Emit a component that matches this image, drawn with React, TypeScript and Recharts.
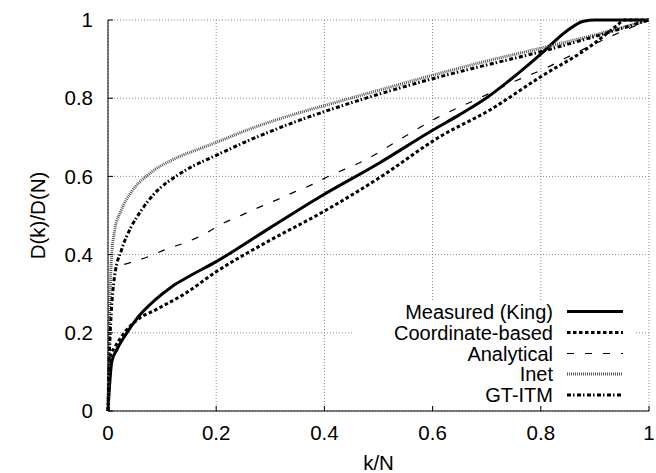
import React from 'react';
import { LineChart, Line, XAxis, YAxis, CartesianGrid, Legend } from 'recharts';

const FONT = '"Liberation Sans", Arial, Helvetica, sans-serif';
const FS = 20.5;

const tickValues = [0, 0.2, 0.4, 0.6, 0.8, 1];
const tickLabels = ['0', '0.2', '0.4', '0.6', '0.8', '1'];

const kingX = [0, 0.007, 0.016, 0.032, 0.056, 0.087, 0.118, 0.143, 0.2, 0.3, 0.392, 0.5, 0.6, 0.65, 0.7, 0.737, 0.8, 0.848, 0.879, 0.9, 1];
const kingY = [0, 0.126, 0.156, 0.194, 0.241, 0.284, 0.318, 0.339, 0.382, 0.469, 0.548, 0.633, 0.718, 0.758, 0.801, 0.84, 0.913, 0.972, 0.997, 1, 1];

const coordX = [0, 0.004, 0.013, 0.03, 0.056, 0.087, 0.143, 0.2, 0.3, 0.392, 0.5, 0.614, 0.706, 0.8, 0.891, 0.94, 0.955, 1];
const coordY = [0, 0.139, 0.164, 0.2, 0.235, 0.258, 0.301, 0.356, 0.437, 0.505, 0.595, 0.702, 0.77, 0.855, 0.932, 0.985, 1, 1];

const analyticX = [0.03, 0.04, 0.075, 0.11, 0.146, 0.18, 0.213, 0.247, 0.281, 0.312, 0.346, 0.379, 0.4, 0.481, 0.54, 0.607, 0.638, 0.675, 0.709, 0.743, 0.777, 0.811, 0.845, 0.915, 1];
const analyticY = [0.375, 0.379, 0.395, 0.415, 0.432, 0.454, 0.48, 0.501, 0.522, 0.54, 0.561, 0.58, 0.595, 0.646, 0.695, 0.749, 0.77, 0.793, 0.815, 0.838, 0.858, 0.878, 0.902, 0.949, 1];

const inetX = [0, 0.001, 0.003, 0.006, 0.012, 0.025, 0.043, 0.074, 0.123, 0.172, 0.2, 0.262, 0.349, 0.392, 0.5, 0.614, 0.7, 0.8, 0.9, 1];
const inetY = [0, 0.1, 0.25, 0.38, 0.46, 0.515, 0.56, 0.604, 0.645, 0.672, 0.687, 0.721, 0.761, 0.778, 0.82, 0.864, 0.895, 0.928, 0.962, 1];

const gtX = [0, 0.002, 0.006, 0.012, 0.025, 0.043, 0.062, 0.092, 0.123, 0.154, 0.197, 0.262, 0.349, 0.392, 0.5, 0.614, 0.7, 0.8, 0.9, 1];
const gtY = [0, 0.12, 0.25, 0.343, 0.412, 0.471, 0.514, 0.565, 0.598, 0.624, 0.652, 0.693, 0.741, 0.762, 0.81, 0.855, 0.885, 0.919, 0.958, 1];

const zip = (xs: number[], ys: number[]) => xs.map((x, i) => ({ x, y: ys[i] }));

const series = [
  { name: 'Measured (King)', data: zip(kingX, kingY), stroke: '#000', width: 3, dash: undefined as string | undefined },
  { name: 'Coordinate-based', data: zip(coordX, coordY), stroke: '#000', width: 3, dash: '3.5 2.5' },
  { name: 'Analytical', data: zip(analyticX, analyticY), stroke: '#000', width: 1.2, dash: '7 11' },
  { name: 'Inet', data: zip(inetX, inetY), stroke: '#555', width: 3, dash: '1 1' },
  { name: 'GT-ITM', data: zip(gtX, gtY), stroke: '#000', width: 3, dash: '4 2 1.5 2.5' },
];

const XTick = (props: any) => {
  const { x, y, index } = props;
  return (
    <text x={x} y={y} dy={33.5} textAnchor="middle" fontSize={FS} fontFamily={FONT} fill="#000">
      {tickLabels[index]}
    </text>
  );
};

const YTick = (props: any) => {
  const { x, y, index } = props;
  return (
    <text x={x} y={y} dx={-20} dy={7.2} textAnchor="end" fontSize={FS} fontFamily={FONT} fill="#000">
      {tickLabels[index]}
    </text>
  );
};

const YLabel = (props: any) => {
  const vb = props.viewBox || {};
  const cx = vb.x + 37;
  const cy = vb.y + vb.height / 2;
  return (
    <text x={cx} y={cy} textAnchor="middle" dominantBaseline="central" fontSize={FS} fontFamily={FONT} fill="#000" transform={`rotate(-90, ${cx}, ${cy})`}>
      D(k)/D(N)
    </text>
  );
};

const XLabel = (props: any) => {
  const vb = props.viewBox || {};
  return (
    <text x={vb.x + vb.width / 2} y={vb.y + 58.5} textAnchor="middle" fontSize={FS} fontFamily={FONT} fill="#000">
      k/N
    </text>
  );
};

const LegendBox = () => {
  const rows = [11.5, 32.5, 53.5, 74, 95];
  return (
    <svg width={284} height={105} style={{ display: 'block' }}>
      <rect x={0} y={0} width={284} height={105} fill="#fff" />
      {series.map((s, i) => (
        <g key={s.name}>
          <text x={201} y={rows[i] + 7} textAnchor="end" fontSize={20} fontFamily={FONT} fill="#000">
            {s.name}
          </text>
          <line x1={215} x2={271} y1={rows[i]} y2={rows[i]} stroke={s.stroke} strokeWidth={s.width} strokeDasharray={s.dash} />
        </g>
      ))}
    </svg>
  );
};

export default function App() {
  return (
    <div style={{ position: 'absolute', left: 0, top: 0, width: 656, height: 473, background: '#fff' }}>
      <LineChart width={656} height={473} margin={{ top: 20, right: 7, bottom: 0, left: 0 }}>
        <CartesianGrid stroke="#888" strokeDasharray="1 2" horizontalValues={tickValues} verticalValues={tickValues} />
        <XAxis
          xAxisId={0}
          dataKey="x"
          type="number"
          domain={[0, 1]}
          ticks={tickValues}
          height={62}
          axisLine={{ stroke: '#000' }}
          tickLine={{ stroke: '#000' }}
          tickSize={-5}
          tickMargin={0}
          tick={<XTick />}
          label={<XLabel />}
          interval={0}
        />
        <XAxis
          xAxisId="top"
          orientation="top"
          type="number"
          domain={[0, 1]}
          ticks={tickValues}
          height={0}
          axisLine={{ stroke: '#000' }}
          tickLine={{ stroke: '#000' }}
          tickSize={-5}
          tick={false}
          interval={0}
        />
        <YAxis
          yAxisId={0}
          type="number"
          domain={[0, 1]}
          ticks={tickValues}
          width={108}
          axisLine={{ stroke: '#000' }}
          tickLine={{ stroke: '#000' }}
          tickSize={-5}
          tickMargin={0}
          tick={<YTick />}
          label={<YLabel />}
          interval={0}
        />
        <YAxis
          yAxisId="right"
          orientation="right"
          type="number"
          domain={[0, 1]}
          ticks={tickValues}
          width={0}
          axisLine={{ stroke: '#000' }}
          tickLine={{ stroke: '#000' }}
          tickSize={-5}
          tick={false}
          interval={0}
        />
        {series.map((s) => (
          <Line
            key={s.name}
            name={s.name}
            data={s.data}
            dataKey="y"
            type="monotone"
            stroke={s.stroke}
            strokeWidth={s.width}
            strokeDasharray={s.dash}
            dot={false}
            activeDot={false}
            isAnimationActive={false}
          />
        ))}
        <Legend
          layout="horizontal"
          verticalAlign="middle"
          align="center"
          content={<LegendBox />}
          wrapperStyle={{ left: 352, top: 300, width: 284, height: 105 }}
        />
      </LineChart>
    </div>
  );
}
